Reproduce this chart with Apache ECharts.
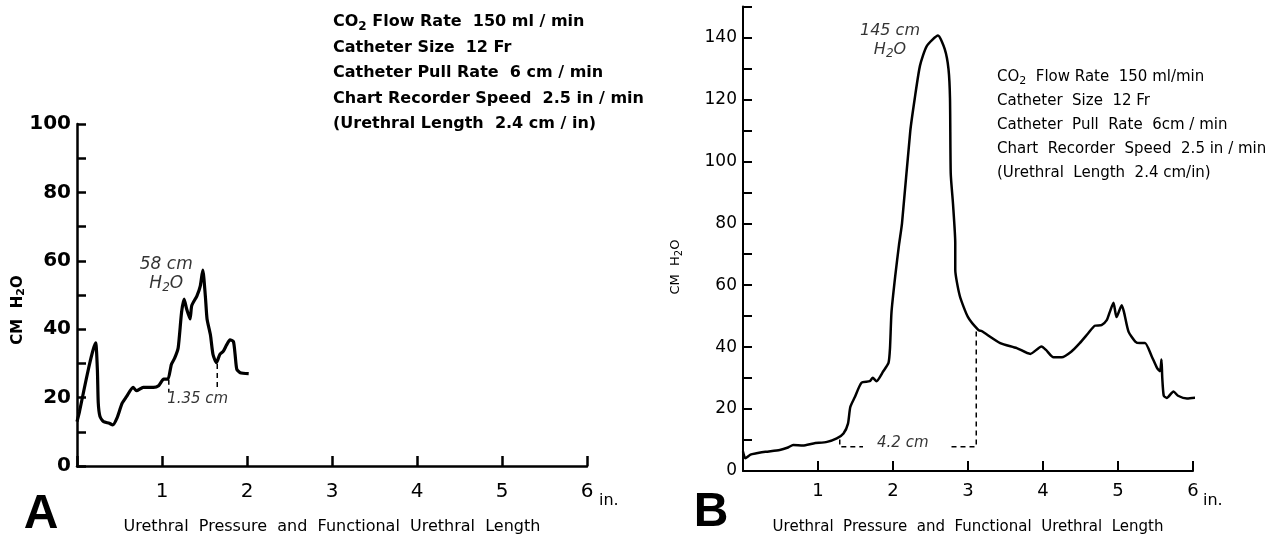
<!DOCTYPE html>
<html>
<head>
<meta charset="utf-8">
<script src="https://cdn.jsdelivr.net/npm/echarts@6/dist/echarts.min.js"></script>
<style>
html, body { margin: 0; background: #fff; }
#main { width: 1274px; height: 540px; }
</style>
</head>
<body>
<div id="main"></div>
<script>
// panel A trace: [inches along urethra, cm H2O]
var tracePanelA = [
	[0.00, 13], [0.03, 16], [0.08, 22], [0.14, 29], [0.19, 34], [0.22, 36], [0.24, 28], [0.25, 18.5],
	[0.27, 14.5], [0.31, 13], [0.38, 12.5], [0.42, 12], [0.47, 14], [0.53, 18.3], [0.58, 20.2],
	[0.66, 23], [0.70, 22], [0.78, 23], [0.90, 23], [0.96, 23.5], [1.02, 25.4], [1.07, 25.4],
	[1.11, 29.7], [1.15, 31.6], [1.19, 34.5], [1.23, 44.9], [1.26, 48.8], [1.29, 45.9], [1.33, 43],
	[1.35, 46.9], [1.41, 49.7], [1.45, 52.6], [1.48, 57.3], [1.51, 49.7], [1.53, 43], [1.57, 38.3],
	[1.60, 32.6], [1.64, 30.2], [1.68, 32.6], [1.72, 33.5], [1.76, 35.4], [1.80, 36.9], [1.84, 36.4],
	[1.86, 32.6], [1.88, 28.3], [1.92, 27.3], [2.02, 27]
];
// panel B trace
var tracePanelB = [
	[0.00, 6.3], [0.03, 4.1], [0.10, 5.3], [0.18, 5.7], [0.30, 6.2], [0.49, 6.8], [0.60, 7.6], [0.67, 8.4],
	[0.80, 8.2], [0.94, 8.9], [1.12, 9.4], [1.25, 10.5], [1.34, 12.1], [1.40, 15.3], [1.43, 20.6],
	[1.49, 23.8], [1.58, 28.5], [1.69, 29], [1.73, 30.1], [1.78, 29], [1.87, 32.2], [1.94, 34.9],
	[1.96, 39.7], [1.98, 51.3], [2.03, 63], [2.08, 73], [2.12, 80], [2.23, 109.7], [2.29, 120.3],
	[2.36, 130.9], [2.45, 137.2], [2.60, 140.6], [2.69, 136.2], [2.74, 129.8], [2.76, 120.3], [2.77, 96],
	[2.80, 86.3], [2.83, 73.6], [2.83, 65.1], [2.89, 56.6], [3.00, 49.7], [3.14, 45.5], [3.18, 45.2],
	[3.43, 41.3], [3.65, 39.7], [3.83, 37.8], [3.98, 40.2], [4.04, 39.1], [4.14, 36.7], [4.25, 36.7],
	[4.38, 38.6], [4.49, 41.3], [4.60, 44.4], [4.69, 46.9], [4.78, 47.1], [4.85, 48.7], [4.89, 51.3],
	[4.94, 54.3], [4.98, 49.7], [5.05, 53.5], [5.08, 51.3], [5.14, 45], [5.23, 41.8], [5.29, 41.3],
	[5.36, 41.3], [5.45, 37], [5.52, 33.3], [5.56, 32.2], [5.58, 36], [5.59, 30.1], [5.61, 24.3],
	[5.65, 23.6], [5.74, 25.7], [5.80, 24.3], [5.92, 23.4], [6.07, 23.8]
];
// dashed length markers
var markA1 = [[1.08, 25.2], [1.08, 21.5]];
var markA2 = [[1.65, 29.8], [1.65, 22.5]];
var markB1 = [[1.29, 10.2], [1.29, 7.8], [1.60, 7.8]];
var markB2 = [[2.78, 7.8], [3.11, 7.8], [3.11, 45.2]];

var notesA = ['CO{s|2} Flow Rate  150 ml / min', 'Catheter Size  12 Fr', 'Catheter Pull Rate  6 cm / min',
	'Chart Recorder Speed  2.5 in / min', '(Urethral Length  2.4 cm / in)'];
var notesB = ['CO{s|2}  Flow Rate  150 ml/min', 'Catheter  Size  12 Fr', 'Catheter  Pull  Rate  6cm / min',
	'Chart  Recorder  Speed  2.5 in / min', '(Urethral  Length  2.4 cm/in)'];
var xTitle = 'Urethral  Pressure  and  Functional  Urethral  Length';
var yTitle = 'CM  H{s|2}O';

var INK = '#000';
var FONT = '"DejaVu Sans", "Liberation Sans", sans-serif';

function noteLines(lines, x, y0, step, size, weight) {
	return lines.map(function (t, i) {
		return {
			type: 'text', x: x, y: y0 + i * step,
			style: {
				text: t, fill: INK, font: weight + ' ' + size + 'px ' + FONT,
				verticalAlign: 'middle', textVerticalAlign: 'middle',
				rich: { s: { fontSize: Math.round(size * 0.72), fontWeight: weight, fontFamily: FONT, padding: [Math.round(size * 0.55), 0, 0, 0] } }
			}
		};
	});
}

function xAxisFor(grid, lw, size, weight, margin, gap, titleSize) {
	return {
		type: 'value', gridIndex: grid, min: 0, max: 6, interval: 1,
		axisLine: { lineStyle: { color: INK, width: lw } },
		axisTick: { inside: true, length: 10, lineStyle: { color: INK, width: lw } },
		splitLine: { show: false },
		axisLabel: { margin: margin, color: INK, fontFamily: FONT, fontSize: size, fontWeight: weight,
			formatter: function (v) { return v === 0 ? '' : String(v); } },
		name: xTitle, nameLocation: 'middle', nameGap: gap,
		nameTextStyle: { color: INK, fontFamily: FONT, fontSize: titleSize }
	};
}

function yAxisFor(grid, max, lw, size, weight) {
	return {
		type: 'value', gridIndex: grid, min: 0, max: max, interval: 10,
		axisLine: { lineStyle: { color: INK, width: lw } },
		axisTick: { inside: true, length: 9, lineStyle: { color: INK, width: lw } },
		splitLine: { show: false },
		axisLabel: { margin: 6, color: INK, fontFamily: FONT, fontSize: size, fontWeight: weight,
			formatter: function (v) { return v % 20 === 0 ? String(v) : ''; } }
	};
}

function dashed(xi, data) {
	return { type: 'line', xAxisIndex: xi, yAxisIndex: xi, data: data, showSymbol: false, silent: true,
		lineStyle: { color: INK, width: 1.5, type: [5, 4] } };
}

function note(xi, pos, text, size) {
	return { type: 'scatter', xAxisIndex: xi, yAxisIndex: xi, data: [pos], symbolSize: 0, silent: true,
		label: { show: true, position: 'inside', formatter: text, color: INK, fontFamily: FONT, fontSize: size,
			fontStyle: 'italic', lineHeight: 19, align: 'center',
			rich: { s: { color: INK, fontSize: Math.round(size * 0.72), fontStyle: 'italic', fontFamily: FONT, padding: [7, 0, 0, 0] } } } };
}

var chart = echarts.init(document.getElementById('main'));
var option = {
	backgroundColor: '#fff',
	animation: false,
	grid: [
		{ left: 77, top: 124, width: 510, height: 350 },
		{ left: 743, top: 6.5, width: 450, height: 471.5 }
	],
	xAxis: [
		xAxisFor(0, 2.5, 20, 'normal', 16, 53, 16),
		xAxisFor(1, 2, 18, 'normal', 11, 49, 15)
	],
	yAxis: [
		yAxisFor(0, 100, 2.5, 20, 'bold'),
		yAxisFor(1, 150, 2, 17, 'normal')
	],
	series: [
		{ type: 'line', xAxisIndex: 0, yAxisIndex: 0, data: tracePanelA, showSymbol: false, smooth: 0.2,
			lineStyle: { color: INK, width: 3.2 } },
		{ type: 'line', xAxisIndex: 1, yAxisIndex: 1, data: tracePanelB, showSymbol: false, smooth: 0.2, clip: false,
			lineStyle: { color: INK, width: 2.5 } },
		dashed(0, markA1), dashed(0, markA2), dashed(1, markB1), dashed(1, markB2),
		note(0, [1.05, 56], '58 cm\nH{s|2}O', 17),
		note(0, [1.42, 19.7], '1.35 cm', 15),
		note(1, [1.96, 139], '145 cm\nH{s|2}O', 16),
		note(1, [2.13, 8.9], '4.2 cm', 15)
	],
	graphic: noteLines(notesA, 333, 22, 25.5, 16, 'bold')
		.concat(noteLines(notesB, 997, 77, 24, 15, 'normal'))
		.concat([
			{ type: 'text', x: 18, y: 310, rotation: Math.PI / 2,
				style: { text: yTitle, fill: INK, font: 'bold 15px ' + FONT, align: 'center', verticalAlign: 'middle',
					textAlign: 'center', textVerticalAlign: 'middle',
					rich: { s: { fontSize: 11, fontWeight: 'bold', fontFamily: FONT, padding: [7, 0, 0, 0] } } } },
			{ type: 'text', x: 676, y: 267, rotation: Math.PI / 2,
				style: { text: yTitle, fill: INK, font: '13px ' + FONT, align: 'center', verticalAlign: 'middle',
					textAlign: 'center', textVerticalAlign: 'middle',
					rich: { s: { fontSize: 10, fontFamily: FONT, padding: [6, 0, 0, 0] } } } },
			{ type: 'text', x: 599, y: 501,
				style: { text: 'in.', fill: INK, font: '16px ' + FONT, verticalAlign: 'middle', textVerticalAlign: 'middle' } },
			{ type: 'text', x: 1203, y: 501,
				style: { text: 'in.', fill: INK, font: '16px ' + FONT, verticalAlign: 'middle', textVerticalAlign: 'middle' } },
			{ type: 'text', x: 41, y: 515,
				style: { text: 'A', fill: INK, font: '900 48px "Liberation Sans", ' + FONT, align: 'center', verticalAlign: 'middle',
					textAlign: 'center', textVerticalAlign: 'middle' } },
			{ type: 'text', x: 711, y: 513,
				style: { text: 'B', fill: INK, font: '900 48px "Liberation Sans", ' + FONT, align: 'center', verticalAlign: 'middle',
					textAlign: 'center', textVerticalAlign: 'middle' } }
		])
};
chart.setOption(option);
</script>
</body>
</html>
